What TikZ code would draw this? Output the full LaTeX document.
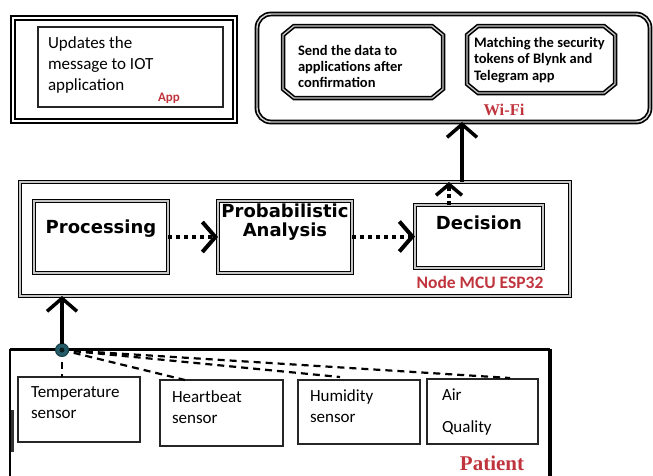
\documentclass[tikz,border=0pt]{standalone}
\usepackage{fontspec}
\setmainfont{Carlito}
\newfontfamily\serifb{Liberation Serif}
\newfontfamily\procfont{DejaVu Sans}
\usetikzlibrary{arrows.meta,shapes.misc,calc}
\definecolor{lblred}{RGB}{192,52,62}
\definecolor{dotc}{RGB}{36,92,104}
\begin{document}
\begin{tikzpicture}[x=1pt,y=-1pt,
  every node/.style={inner sep=0pt,outer sep=0pt},
  box/.style={anchor=north west,rectangle},
  dblbox/.style={box,draw=black,line width=1.6pt,double=gray!45,double distance=1.3pt},
  thinbox/.style={box,draw=black!85,line width=1.2pt},
  chline/.style={draw=black,line width=1.6pt,double=gray!45,double distance=1.3pt,line join=miter},
  sentxt/.style={anchor=west,align=left,font=\fontsize{17}{21}\selectfont},
  wtxt/.style={anchor=west,align=left,font=\bfseries\fontsize{14.5}{16}\selectfont},
  proctxt/.style={align=center,font=\procfont\bfseries\fontsize{18}{19}\selectfont},
  redlbl/.style={text=lblred,font=\bfseries},
  chev/.style={-{Straight Barb[length=13pt,width=30pt,line width=3.5pt]}},
  solidarr/.style={line width=3.2pt,chev},
  dotarr/.style={line width=4pt,dash pattern=on 4pt off 4pt,-{Straight Barb[length=13pt,width=30pt,line width=4pt]}},
  dsh/.style={line width=2.2pt,dash pattern=on 7pt off 5pt}
]
\useasboundingbox (0,0) rectangle (653,475);

% App box
\node[box,draw=black,line width=1.8pt,double=white,double distance=2pt,minimum width=222pt,minimum height=103pt] (app) at (13,18) {};
\node[thinbox,minimum width=185pt,minimum height=80pt] (appin) at (38,27) {};
\node[sentxt] (apptxt) at (48,65) {Updates the\\message to IOT\\application};
\node[redlbl,font=\bfseries\fontsize{13}{13}\selectfont] (applbl) at (169,98) {App};

% Wi-Fi box
\node[box,draw=black,line width=1.7pt,double=gray!35,double distance=1.4pt,rounded corners=14pt,minimum width=393pt,minimum height=108pt] (wifi) at (257,14) {};
\node[box,minimum width=160pt,minimum height=72pt] (w1) at (283,26) {};
\node[box,minimum width=148pt,minimum height=67pt] (w2) at (467,26) {};
\foreach \b in {w1,w2}{
  \draw[chline] ($(\b.north west)+(11,0)$) -- ($(\b.north east)+(-11,0)$) -- ($(\b.north east)+(0,9)$)
    -- ($(\b.south east)+(0,-9)$) -- ($(\b.south east)+(-11,0)$) -- ($(\b.south west)+(11,0)$)
    -- ($(\b.south west)+(0,-9)$) -- ($(\b.north west)+(0,9)$) -- cycle;
}
\node[wtxt] (w1txt) at (298,66) {Send the data to\\applications after\\confirmation};
\node[wtxt,font=\bfseries\fontsize{14.5}{16.5}\selectfont] (w2txt) at (474,60) {Matching the security\\tokens of Blynk and\\Telegram app};
\node[redlbl,font=\serifb\bfseries\fontsize{16.5}{16.5}\selectfont] (wifilbl) at (504,110) {Wi-Fi};

% ESP32 box
\node[dblbox,minimum width=550pt,minimum height=114pt] (esp) at (20,182) {};
\node[dblbox,minimum width=134pt,minimum height=72pt] (proc) at (34,201) {};
\node[dblbox,minimum width=134pt,minimum height=72pt] (prob) at (218,201) {};
\node[dblbox,minimum width=128pt,minimum height=63pt] (dec) at (415,205) {};
\node[proctxt] (proctxt) at (101,229) {Processing};
\node[proctxt] (probtxt) at (285,222) {Probabilistic\\Analysis};
\node[proctxt] (dectxt) at (479,223) {Decision};
\node[redlbl,font=\bfseries\fontsize{17.5}{17.5}\selectfont] (esplbl) at (480,282) {Node MCU ESP32};

% Patient box
\node[box,minimum width=540pt,minimum height=130pt] (patient) at (10,349) {};
\draw[line width=3pt] (patient.north west) -- (patient.north east);
\draw[line width=1.3pt] (patient.north west) -- (patient.south west);
\draw[line width=3.2pt] (patient.north east) -- (patient.south east);
\coordinate (lmk1) at (12.5,410);
\coordinate (lmk2) at (12.5,452);
\draw[line width=2.5pt,black!80] (lmk1) -- (lmk2);

\node[thinbox,minimum width=122pt,minimum height=65pt] (temp) at (18,377) {};
\node[thinbox,minimum width=123pt,minimum height=66pt] (hb) at (160,380) {};
\node[thinbox,minimum width=122pt,minimum height=64pt] (hum) at (298,380) {};
\node[thinbox,minimum width=111pt,minimum height=65pt] (air) at (427,379) {};
\node[sentxt] (temptxt) at (31,403) {Temperature\\sensor};
\node[sentxt] (hbtxt) at (172,407) {Heartbeat\\sensor};
\node[sentxt] (humtxt) at (310,406) {Humidity\\sensor};
\node[sentxt] (airtxt1) at (442,395) {Air};
\node[sentxt] (airtxt2) at (442,428) {Quality};
\node[redlbl,font=\serifb\bfseries\fontsize{21}{21}\selectfont] (patlbl) at (492,463) {Patient};

% hub dot and connectors
\draw[dsh] (62,350) coordinate (hub) -- (hub |- temp.north);
\draw[dsh] (hub) -- ($(hb.north west)+(25,0)$);
\draw[dsh] (hub) -- ($(hum.north west)+(42,-3)$);
\draw[dsh] (hub) -- ($(air.north west)+(83,-1)$);
\node[circle,fill=dotc,draw=dotc!70!black,line width=1pt,minimum size=13pt] (dot) at (hub) {};
\fill[black!70!dotc] (dot.center) circle (2.5pt);
\draw[solidarr] (dot.north) -- (dot |- esp.south);

\draw[dotarr] (proc.east) -- (prob.west);
\draw[dotarr] (prob.east |- dec.west) -- (dec.west);

\coordinate (upx) at (462,0);
\coordinate (dx) at (449,0);
\draw[solidarr] (esp.north -| upx) -- (wifi.south -| upx);
\draw[line width=3.2pt,dash pattern=on 4pt off 3pt,-{Straight Barb[length=11pt,width=26pt,line width=3.5pt]}] (dec.north -| dx) -- (esp.north -| dx);
\end{tikzpicture}
\end{document}
